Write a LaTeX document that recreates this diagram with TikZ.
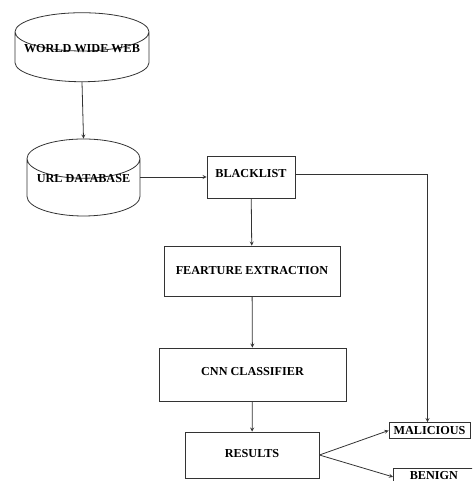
\documentclass[tikz,border=0pt]{standalone}
\usepackage{fontspec}
\setmainfont{Liberation Serif}
\usetikzlibrary{arrows, positioning, shapes, shapes.geometric}
\tikzset{
	every node/.style={
		align=center,
		font=\bfseries\fontsize{12.2}{14}\selectfont,
	},
	box-node/.style={
		rectangle,
		draw=black!80, thick,
		inner sep=0pt,
		text centered,
		anchor=center
	},
	db-node/.style={
		cylinder,
		shape border rotate=90,
		draw=black!80, thick,
		inner sep=0pt,
		anchor=center
	},
	edge-style/.style = {thick, draw=black!80, ->,>=stealth},
}
\begin{document}
\begin{tikzpicture}[x=1pt,y=-1pt]
	\useasboundingbox (0,0) rectangle (472,481);
	\clip (0,0) rectangle (472,481);
	\node (www) [db-node, minimum width=134pt, minimum height=69pt, aspect=0.33] at (82,57) {\phantom{WORLD WIDE WEB}};
	\node (www-text) at (82,48.5) {WORLD WIDE WEB};
	\node (urldb) [db-node, minimum width=113pt, minimum height=77pt, aspect=0.42] at (83.5,187.5) {\phantom{URL DATABASE}};
	\node (urldb-text) at (83.5,179) {URL DATABASE};
	\node (black) [box-node, minimum width=88pt, minimum height=42pt, text depth=8pt] at (251,177) {BLACKLIST};
	\node (feat) [box-node, minimum width=176pt, minimum height=50pt] at (252,271) {FEARTURE EXTRACTION};
	\node (cnn) [box-node, minimum width=187pt, minimum height=53pt, text depth=6pt] at (252.5,374.5) {CNN CLASSIFIER};
	\node (res) [box-node, minimum width=134pt, minimum height=46pt, text depth=4pt] at (252,455) {RESULTS};
	\node (mal) [box-node, minimum width=81pt, minimum height=16pt] at (429.5,430.5) {MALICIOUS};
	\node (ben) [box-node, minimum width=81pt, minimum height=17pt, text height=11pt, text depth=6pt, anchor=north west] at (393,468) {BENIGN};
	% connectors
	\draw [edge-style] (www.bottom) -- (urldb.top);
	\draw [edge-style] (urldb.east |- black.west) -- (black.west);
	\draw [edge-style] (black) -- (feat);
	\draw [edge-style] (feat) -- (cnn);
	\draw [edge-style] (cnn) -- (res);
	\draw [edge-style] ([yshift=3pt]black.east) -| ([xshift=-2pt]mal.north);
	\draw [edge-style] (res.east) -- (mal.west);
	\draw [edge-style] (res.east) -- (ben.west);
\end{tikzpicture}
\end{document}
